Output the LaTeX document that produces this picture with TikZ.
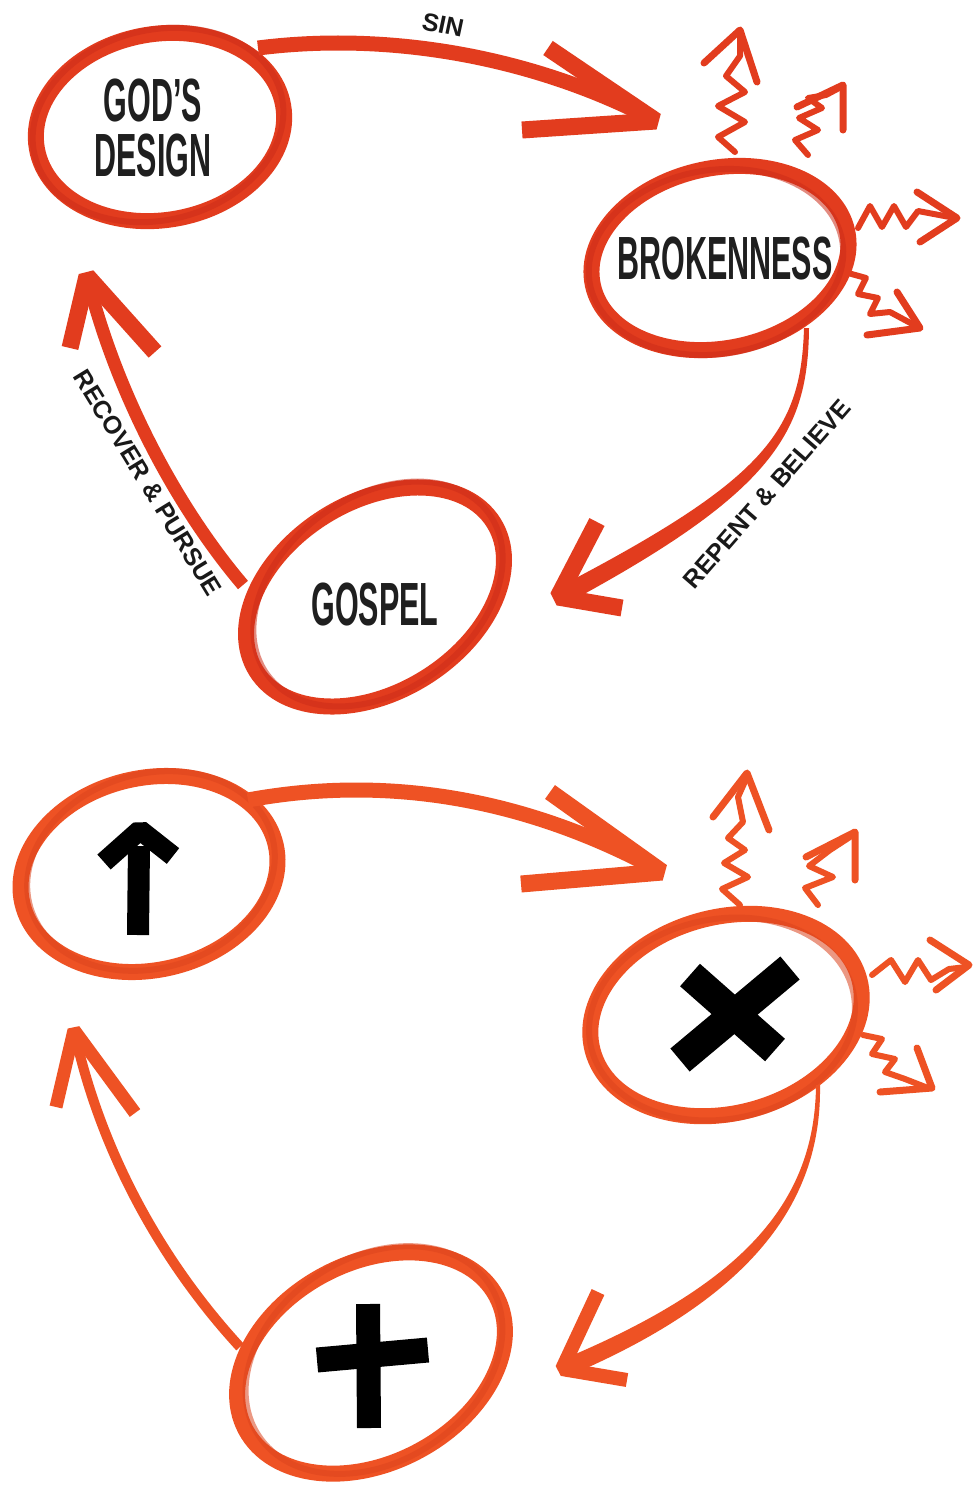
\documentclass[tikz,border=0pt]{standalone}
\usepackage{fontspec}
\setmainfont{Liberation Sans}
\newfontfamily\condf{Liberation Sans}[FakeStretch=0.5]
\usetikzlibrary{shapes.geometric}
\definecolor{redA}{RGB}{226,60,30}
\definecolor{redD}{RGB}{205,45,25}
\definecolor{orgB}{RGB}{238,82,36}
\definecolor{orgD}{RGB}{220,68,30}
\tikzset{
  ring/.style={draw, ellipse, inner sep=0pt, outer sep=0pt, line width=16},
  streak/.style={line width=6, opacity=0.55},
  shaft/.style={line width=14, line cap=butt},
  head/.style={line width=17, line cap=butt, line join=bevel},
  sq/.style={line width=6, line join=round, line cap=round},
  sqhead/.style={line width=7, line join=round, line cap=round},
  bigtxt/.style={font=\condf\bfseries\fontsize{61}{55}\selectfont, text=black!88, align=center, inner sep=0pt},
  lab/.style={font=\bfseries\fontsize{25}{25}\selectfont, text=black!90, inner sep=0pt},
  blk/.style={draw=black, line cap=butt, line join=bevel}
}
\begin{document}
\begin{tikzpicture}[x=1pt,y=-1pt]
\useasboundingbox (0,0) rectangle (972,1486);
\fill[white] (0,0) rectangle (972,1486);

% ================= TOP DIAGRAM =================
\node[ring, draw=redA, minimum width=250, minimum height=186, rotate=10] (gd) at (160,127) {};
\draw[redD, streak] (158,125) ellipse [x radius=127, y radius=95, rotate=14];
\node[ring, draw=redA, minimum width=260, minimum height=180, rotate=12] (br) at (720,258) {};
\draw[redD, streak] (716,262) ellipse [x radius=128, y radius=92, rotate=9];
\node[ring, draw=redA, minimum width=280, minimum height=190, rotate=32] (gs) at (375,597) {};
\draw[redD, streak] (378,594) ellipse [x radius=137, y radius=97, rotate=36];

\node[bigtxt] (gdt) at (153,128) {GOD’S\\DESIGN};
\node[bigtxt] (brt) at (725,258) {BROKENNESS};
\node[bigtxt] (gst) at (375,604) {GOSPEL};

% SIN arrow
\coordinate (sinS) at (258,48);
\coordinate (sinT) at (656,121);
\coordinate (sinU) at (548,48);
\coordinate (sinL) at (522,130);
\draw[redA, shaft, line width=15] (sinS) .. controls (400,30) and (545,62) .. (sinT);
\draw[redA, head] (sinU) -- (sinT) -- (sinL);
\node[lab, rotate=-12] (sinl) at (443,25) {SIN};

% REPENT & BELIEVE arrow
\coordinate (rbS) at (806,328);
\coordinate (rbT) at (558,597);
\coordinate (rbU) at (597,522);
\coordinate (rbL) at (622,608);
\fill[redA] (804,328) .. controls (801,432) and (765,480) .. (555,589) -- (562,606) .. controls (775,492) and (808,432) .. (809,328) -- cycle;
\draw[redA, head] (rbU) -- (rbT) -- (rbL);
\node[lab, rotate=49] (rbl) at (767,494) {REPENT \& BELIEVE};

% RECOVER & PURSUE arrow
\coordinate (rpS) at (243,585);
\coordinate (rpT) at (87,276);
\coordinate (rpU) at (70,348);
\coordinate (rpL) at (155,352);
\draw[redA, shaft, line width=13] (rpS) .. controls (175,505) and (115,390) .. (rpT);
\draw[redA, head] (rpU) -- (rpT) -- (rpL);
\node[lab, rotate=-58.5] (rpl) at (148,483) {RECOVER \& PURSUE};

% squiggles
\draw[redA, sq] (735,152) -- (718,137) -- (745,122) -- (718,106) -- (745,92) -- (726,76) -- (740,56) -- (740,34);
\draw[redA, sqhead] (704,63) -- (740,30) -- (757,82);
\draw[redA, sq] (808,155) -- (795,140) -- (818,130) -- (799,118) -- (822,108) -- (808,98) -- (826,95) -- (841,87);
\draw[redA, sqhead] (797,107) -- (843,85) -- (843,130);
\draw[redA, sq] (858,228) -- (870,206) -- (882,227) -- (894,206) -- (906,227) -- (918,211) -- (955,218);
\draw[redA, sqhead] (917,192) -- (957,218) -- (920,242);
\draw[redA, sq] (848,273) -- (866,278) -- (858,294) -- (878,298) -- (870,314) -- (890,312) -- (916,326);
\draw[redA, sqhead] (867,335) -- (920,328) -- (897,292);

% ================= BOTTOM DIAGRAM =================
\node[ring, draw=orgB, minimum width=260, minimum height=192, rotate=13] (up) at (149,874) {};
\draw[orgD, streak] (151,871) ellipse [x radius=126, y radius=97, rotate=17];
\node[ring, draw=orgB, minimum width=276, minimum height=196, rotate=15] (xx) at (726,1015) {};
\draw[orgD, streak] (722,1019) ellipse [x radius=134, y radius=100, rotate=11];
\node[ring, draw=orgB, minimum width=284, minimum height=200, rotate=28] (cr) at (371,1363) {};
\draw[orgD, streak] (374,1360) ellipse [x radius=138, y radius=102, rotate=33];

% symbols
\draw[blk, line width=22] (138,935) -- (139,846);
\draw[blk, line width=20] (104,862) -- (140,830) -- (173,856);
\draw[blk, line width=30] (690,975) -- (775,1050);
\draw[blk, line width=30] (790,968) -- (680,1060);
\draw[blk, line width=24] (368,1304) -- (369,1428);
\draw[blk, line width=25] (317,1360) -- (428,1350);

% arrow up-ellipse -> X
\coordinate (bsS) at (248,800);
\coordinate (bsT) at (662,872);
\coordinate (bsU) at (550,792);
\coordinate (bsL) at (521,884);
\draw[orgB, shaft, line width=15] (bsS) .. controls (400,772) and (540,805) .. (bsT);
\draw[orgB, head] (bsU) -- (bsT) -- (bsL);

% arrow X -> cross
\coordinate (brS) at (818,1085);
\coordinate (brT) at (562,1369);
\coordinate (brU) at (598,1292);
\coordinate (brL) at (627,1380);
\fill[orgB] (816,1085) .. controls (815,1205) and (740,1286) .. (559,1361) -- (566,1377) .. controls (748,1300) and (822,1205) .. (820,1085) -- cycle;
\draw[orgB, head, line width=14] (brU) -- (brT) -- (brL);

% arrow cross -> up
\coordinate (bpS) at (240,1347);
\coordinate (bpT) at (74,1030);
\coordinate (bpU) at (56,1107);
\coordinate (bpL) at (135,1113);
\draw[orgB, shaft, line width=10] (bpS) .. controls (160,1260) and (100,1150) .. (bpT);
\draw[orgB, head, line width=13] (bpU) -- (bpT) -- (bpL);

% squiggles bottom
\draw[orgB, sq] (740,905) -- (722,889) -- (748,877) -- (724,863) -- (745,850) -- (728,838) -- (743,822) -- (738,797) -- (747,777);
\draw[orgB, sqhead] (713,817) -- (747,773) -- (769,830);
\draw[orgB, sq] (818,905) -- (805,888) -- (833,877) -- (809,866) -- (830,850) -- (853,835);
\draw[orgB, sqhead] (806,857) -- (855,832) -- (855,880);
\draw[orgB, sq] (872,975) -- (891,960) -- (905,982) -- (918,960) -- (931,980) -- (949,969) -- (966,967);
\draw[orgB, sqhead] (930,940) -- (969,965) -- (936,990);
\draw[orgB, sq] (863,1035) -- (882,1039) -- (872,1054) -- (895,1059) -- (885,1072) -- (905,1079) -- (928,1088);
\draw[orgB, sqhead] (880,1092) -- (932,1088) -- (917,1048);
\end{tikzpicture}
\end{document}
